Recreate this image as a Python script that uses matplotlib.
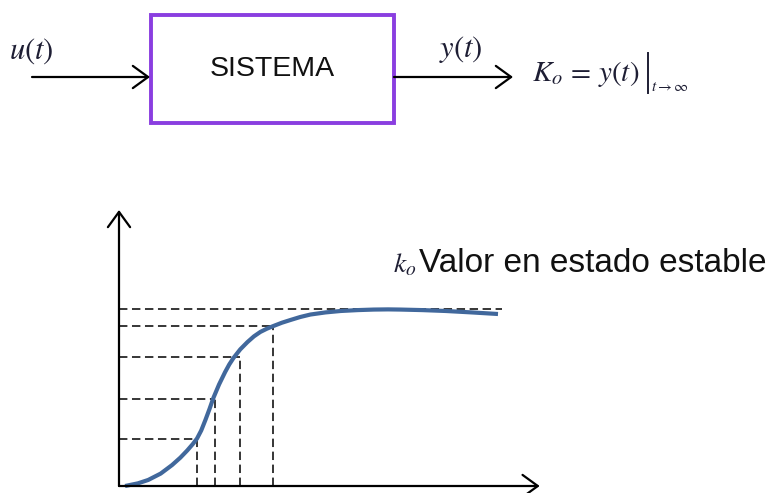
import matplotlib
matplotlib.use('Agg')
import matplotlib.pyplot as plt
from matplotlib.patches import Rectangle

plt.rcParams['mathtext.fontset'] = 'stix'

# respuesta del sistema (t en unidades arbitrarias, y normalizada a k_o = 1)
t_resp = [0.16, 0.5, 0.77, 1.1, 1.40, 1.62, 1.80, 1.95, 2.06, 2.17, 2.28,
          2.39, 2.49, 2.64, 2.80, 2.91, 3.02, 3.20, 3.39, 3.56, 3.73, 3.90,
          4.07, 4.30, 4.52, 4.78, 5.05, 5.45, 5.85, 6.30, 6.72, 7.10, 7.43,
          8.00, 8.62, 9.30, 10.0]
y_resp = [0.0, 0.015, 0.034, 0.07, 0.118, 0.16, 0.20, 0.237, 0.268, 0.313,
          0.372, 0.435, 0.496, 0.572, 0.642, 0.685, 0.721, 0.77, 0.811, 0.843,
          0.868, 0.886, 0.901, 0.92, 0.935, 0.952, 0.966, 0.978, 0.986, 0.991,
          0.994, 0.995, 0.994, 0.991, 0.986, 0.978, 0.969]

# niveles marcados con lineas punteadas y sus instantes
niveles = [0.265, 0.49, 0.727, 0.901]
t_niveles = [2.06, 2.54, 3.20, 4.07]
k_o = 1.0
t_fin = 10.1

W, H = 773, 493
PX_T = 37.9    # pixeles por unidad de tiempo
PX_Y = 177.5   # pixeles por unidad de salida
X0, Y0 = 119, 486  # origen de la grafica en pixeles

fig = plt.figure(figsize=(W / 100, H / 100), dpi=100)

# --- diagrama de bloques ---
ax0 = fig.add_axes([0, 0, 1, 1])
ax0.set_xlim(0, W)
ax0.set_ylim(H, 0)
ax0.axis('off')

morado = '#8a3ee0'
tinta = '#1e1e34'
flecha = dict(arrowstyle='->,head_length=1.1,head_width=0.8', lw=1.6,
              color='black', shrinkA=0, shrinkB=0, mutation_scale=10)

ax0.add_patch(Rectangle((150.5, 15), 243.5, 108, fill=False,
                        edgecolor=morado, lw=2.8))
ax0.text(272, 69, 'SISTEMA', fontsize=20.5, family='Liberation Sans',
         ha='center', va='center', color='#111111')

ax0.annotate('', xy=(150, 77), xytext=(32, 77), arrowprops=flecha)
ax0.annotate('', xy=(513, 77), xytext=(394, 77), arrowprops=flecha)

ax0.text(9, 59, r'$u(t)$', fontsize=22, color=tinta, va='baseline')
ax0.text(439, 57, r'$y(t)$', fontsize=22, color=tinta, va='baseline')
ax0.text(532, 81, r'$K_o\, =\, y(t)$', fontsize=21, color=tinta,
         va='baseline')
ax0.plot([648, 648], [53, 93], color=tinta, lw=1.4)
ax0.text(651, 91, r'$t\rightarrow\infty$', fontsize=11, color=tinta,
         va='baseline')

# texto del valor en estado estable
ax0.text(393, 272, r'$k_o$', fontsize=20, color=tinta, va='baseline')
ax0.text(419, 272, 'Valor en estado estable', fontsize=24,
         family='Liberation Sans', va='baseline', color='#111111')

# --- grafica de la respuesta ---
ax = fig.add_axes([X0 / W, (H - Y0) / H, (560 - X0) / W, (Y0 - 200) / H])
ax.set_xlim(0, (560 - X0) / PX_T)
ax.set_ylim(0, (Y0 - 200) / PX_Y)
ax.axis('off')

ejes = dict(arrowstyle='->,head_length=1.1,head_width=0.8', lw=1.6,
            color='black', shrinkA=0, shrinkB=0, mutation_scale=10)
ax.annotate('', xy=(11.1, 0), xytext=(0, 0), arrowprops=ejes,
            annotation_clip=False)
ax.annotate('', xy=(0, 1.555), xytext=(0, 0), arrowprops=ejes,
            annotation_clip=False)

guion = dict(color='black', lw=1.1, linestyle=(0, (5.5, 3)))
ax.plot([0, t_fin], [k_o, k_o], **guion)
for t_n, y_n in zip(t_niveles, niveles):
    ax.plot([0, t_n], [y_n, y_n], **guion)
    ax.plot([t_n, t_n], [0, y_n], **guion)

ax.plot(t_resp, y_resp, color='#41689c', lw=3, solid_capstyle='butt',
        solid_joinstyle='round', clip_on=False)

fig.savefig('out.png', dpi=100)
